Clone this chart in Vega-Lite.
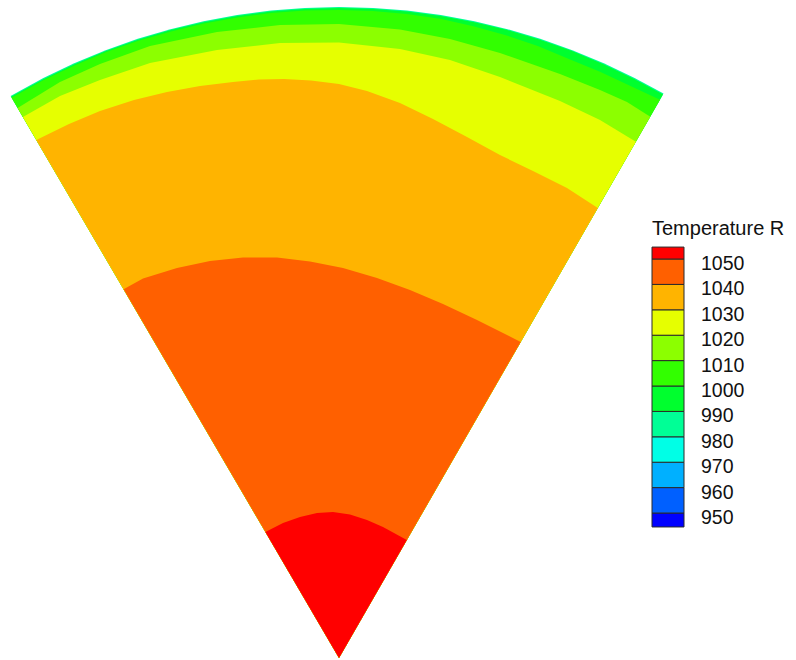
{
  "$schema": "https://vega.github.io/schema/vega-lite/v6.json",
  "padding": 0,
  "spacing": 0,
  "bounds": "flush",
  "background": "white",
  "config": {"view": {"stroke": null}},
  "datasets": {
    "wedge": [
      {"level": 980, "i": 0, "x": 0, "y": 0},
      {"level": 980, "i": 1, "x": -328.4, "y": 562.1},
      {"level": 980, "i": 2, "x": -295.6, "y": 580.0},
      {"level": 980, "i": 3, "x": -264.8, "y": 594.7},
      {"level": 980, "i": 4, "x": -233.3, "y": 607.8},
      {"level": 980, "i": 5, "x": -201.2, "y": 619.2},
      {"level": 980, "i": 6, "x": -168.5, "y": 628.8},
      {"level": 980, "i": 7, "x": -135.4, "y": 636.8},
      {"level": 980, "i": 8, "x": -101.8, "y": 643.0},
      {"level": 980, "i": 9, "x": -68.0, "y": 647.4},
      {"level": 980, "i": 10, "x": -34.1, "y": 650.1},
      {"level": 980, "i": 11, "x": 0, "y": 651},
      {"level": 980, "i": 12, "x": 34.1, "y": 650.1},
      {"level": 980, "i": 13, "x": 68.0, "y": 647.4},
      {"level": 980, "i": 14, "x": 101.8, "y": 643.0},
      {"level": 980, "i": 15, "x": 135.4, "y": 636.8},
      {"level": 980, "i": 16, "x": 168.5, "y": 628.8},
      {"level": 980, "i": 17, "x": 201.2, "y": 619.2},
      {"level": 980, "i": 18, "x": 233.3, "y": 607.8},
      {"level": 980, "i": 19, "x": 264.8, "y": 594.7},
      {"level": 980, "i": 20, "x": 295.6, "y": 580.0},
      {"level": 980, "i": 21, "x": 324.5, "y": 564.4},

      {"level": 990, "i": 0, "x": 0, "y": 0},
      {"level": 990, "i": 1, "x": -327.9, "y": 561.2},
      {"level": 990, "i": 2, "x": -295.1, "y": 579.1},
      {"level": 990, "i": 3, "x": -264.4, "y": 593.8},
      {"level": 990, "i": 4, "x": -233.0, "y": 606.9},
      {"level": 990, "i": 5, "x": -200.9, "y": 618.2},
      {"level": 990, "i": 6, "x": -168.2, "y": 627.9},
      {"level": 990, "i": 7, "x": -135.2, "y": 635.8},
      {"level": 990, "i": 8, "x": -101.7, "y": 642.0},
      {"level": 990, "i": 9, "x": -67.9, "y": 646.4},
      {"level": 990, "i": 10, "x": -34.0, "y": 649.1},
      {"level": 990, "i": 11, "x": 0, "y": 650},
      {"level": 990, "i": 12, "x": 34.0, "y": 649.1},
      {"level": 990, "i": 13, "x": 67.9, "y": 646.4},
      {"level": 990, "i": 14, "x": 101.7, "y": 642.0},
      {"level": 990, "i": 15, "x": 135.2, "y": 635.8},
      {"level": 990, "i": 16, "x": 168.2, "y": 627.9},
      {"level": 990, "i": 17, "x": 200.9, "y": 618.2},
      {"level": 990, "i": 18, "x": 233.0, "y": 606.9},
      {"level": 990, "i": 19, "x": 264.4, "y": 593.8},
      {"level": 990, "i": 20, "x": 295.1, "y": 579.1},
      {"level": 990, "i": 21, "x": 324.0, "y": 563.5},

      {"level": 1000, "i": 0, "x": 0, "y": 0},
      {"level": 1000, "i": 1, "x": -327.4, "y": 560.3},
      {"level": 1000, "i": 2, "x": -294.7, "y": 578.3},
      {"level": 1000, "i": 3, "x": -263.9, "y": 592.8},
      {"level": 1000, "i": 4, "x": -232.6, "y": 605.9},
      {"level": 1000, "i": 5, "x": -200.5, "y": 617.3},
      {"level": 1000, "i": 6, "x": -167.9, "y": 626.6},
      {"level": 1000, "i": 7, "x": -134.9, "y": 634.5},
      {"level": 1000, "i": 8, "x": -101.4, "y": 640.6},
      {"level": 1000, "i": 9, "x": -67.7, "y": 644.9},
      {"level": 1000, "i": 10, "x": -33.9, "y": 647.4},
      {"level": 1000, "i": 11, "x": 0, "y": 648},
      {"level": 1000, "i": 12, "x": 33.9, "y": 646.9},
      {"level": 1000, "i": 13, "x": 67.7, "y": 643.9},
      {"level": 1000, "i": 14, "x": 101.2, "y": 639.2},
      {"level": 1000, "i": 15, "x": 134.3, "y": 631.8},
      {"level": 1000, "i": 16, "x": 166.9, "y": 622.8},
      {"level": 1000, "i": 17, "x": 198.8, "y": 611.9},
      {"level": 1000, "i": 18, "x": 229.9, "y": 598.9},
      {"level": 1000, "i": 19, "x": 261.0, "y": 586.2},
      {"level": 1000, "i": 20, "x": 291.5, "y": 572.1},
      {"level": 1000, "i": 21, "x": 321.0, "y": 558.3},

      {"level": 1010, "i": 0, "x": 0, "y": 0},
      {"level": 1010, "i": 1, "x": -321.4, "y": 550.0},
      {"level": 1010, "i": 2, "x": -279, "y": 576},
      {"level": 1010, "i": 3, "x": -239, "y": 594},
      {"level": 1010, "i": 4, "x": -189, "y": 612},
      {"level": 1010, "i": 5, "x": -122, "y": 626},
      {"level": 1010, "i": 6, "x": -59, "y": 633},
      {"level": 1010, "i": 7, "x": 0, "y": 634},
      {"level": 1010, "i": 8, "x": 61, "y": 628.5},
      {"level": 1010, "i": 9, "x": 111, "y": 619},
      {"level": 1010, "i": 10, "x": 161, "y": 605},
      {"level": 1010, "i": 11, "x": 221, "y": 584},
      {"level": 1010, "i": 12, "x": 261, "y": 568},
      {"level": 1010, "i": 13, "x": 288, "y": 556},
      {"level": 1010, "i": 14, "x": 311.3, "y": 541.3},

      {"level": 1020, "i": 0, "x": 0, "y": 0},
      {"level": 1020, "i": 1, "x": -316.1, "y": 541.0},
      {"level": 1020, "i": 2, "x": -279, "y": 562},
      {"level": 1020, "i": 3, "x": -239, "y": 578},
      {"level": 1020, "i": 4, "x": -189, "y": 595},
      {"level": 1020, "i": 5, "x": -122, "y": 608},
      {"level": 1020, "i": 6, "x": -59, "y": 615},
      {"level": 1020, "i": 7, "x": 0, "y": 615.5},
      {"level": 1020, "i": 8, "x": 61, "y": 609},
      {"level": 1020, "i": 9, "x": 111, "y": 598},
      {"level": 1020, "i": 10, "x": 161, "y": 581},
      {"level": 1020, "i": 11, "x": 221, "y": 557},
      {"level": 1020, "i": 12, "x": 261, "y": 538},
      {"level": 1020, "i": 13, "x": 296.9, "y": 516.3},

      {"level": 1030, "i": 0, "x": 0, "y": 0},
      {"level": 1030, "i": 1, "x": -302.7, "y": 518.0},
      {"level": 1030, "i": 2, "x": -270, "y": 534},
      {"level": 1030, "i": 3, "x": -239, "y": 547},
      {"level": 1030, "i": 4, "x": -205, "y": 558},
      {"level": 1030, "i": 5, "x": -172, "y": 566},
      {"level": 1030, "i": 6, "x": -139, "y": 572},
      {"level": 1030, "i": 7, "x": -106, "y": 576},
      {"level": 1030, "i": 8, "x": -80, "y": 578.5},
      {"level": 1030, "i": 9, "x": -55, "y": 579},
      {"level": 1030, "i": 10, "x": -28, "y": 577.5},
      {"level": 1030, "i": 11, "x": 0, "y": 574},
      {"level": 1030, "i": 12, "x": 28, "y": 567},
      {"level": 1030, "i": 13, "x": 61, "y": 555},
      {"level": 1030, "i": 14, "x": 94, "y": 539},
      {"level": 1030, "i": 15, "x": 128, "y": 521},
      {"level": 1030, "i": 16, "x": 161, "y": 503},
      {"level": 1030, "i": 17, "x": 194, "y": 487},
      {"level": 1030, "i": 18, "x": 228, "y": 470},
      {"level": 1030, "i": 19, "x": 258.8, "y": 450.0},

      {"level": 1040, "i": 0, "x": 0, "y": 0},
      {"level": 1040, "i": 1, "x": -215.4, "y": 368.7},
      {"level": 1040, "i": 2, "x": -196, "y": 379.5},
      {"level": 1040, "i": 3, "x": -162, "y": 390},
      {"level": 1040, "i": 4, "x": -129, "y": 397},
      {"level": 1040, "i": 5, "x": -96, "y": 400.5},
      {"level": 1040, "i": 6, "x": -62, "y": 400.5},
      {"level": 1040, "i": 7, "x": -29, "y": 396.5},
      {"level": 1040, "i": 8, "x": 4, "y": 390},
      {"level": 1040, "i": 9, "x": 38, "y": 380},
      {"level": 1040, "i": 10, "x": 71, "y": 368},
      {"level": 1040, "i": 11, "x": 104, "y": 354},
      {"level": 1040, "i": 12, "x": 138, "y": 338},
      {"level": 1040, "i": 13, "x": 181.7, "y": 316.0},

      {"level": 1050, "i": 0, "x": 0, "y": 0},
      {"level": 1050, "i": 1, "x": -73.6, "y": 126.0},
      {"level": 1050, "i": 2, "x": -56, "y": 135},
      {"level": 1050, "i": 3, "x": -39, "y": 141},
      {"level": 1050, "i": 4, "x": -22, "y": 145},
      {"level": 1050, "i": 5, "x": -6, "y": 146},
      {"level": 1050, "i": 6, "x": 11, "y": 143.5},
      {"level": 1050, "i": 7, "x": 28, "y": 138},
      {"level": 1050, "i": 8, "x": 44, "y": 131},
      {"level": 1050, "i": 9, "x": 67.8, "y": 118.0}
    ],
    "bands": [
      {"level": 945, "lo": 944.5, "hi": 950},
      {"level": 950, "lo": 950, "hi": 960},
      {"level": 960, "lo": 960, "hi": 970},
      {"level": 970, "lo": 970, "hi": 980},
      {"level": 980, "lo": 980, "hi": 990},
      {"level": 990, "lo": 990, "hi": 1000},
      {"level": 1000, "lo": 1000, "hi": 1010},
      {"level": 1010, "lo": 1010, "hi": 1020},
      {"level": 1020, "lo": 1020, "hi": 1030},
      {"level": 1030, "lo": 1030, "hi": 1040},
      {"level": 1040, "lo": 1040, "hi": 1050},
      {"level": 1050, "lo": 1050, "hi": 1054.7}
    ],
    "ticks": [
      {"v": 950}, {"v": 960}, {"v": 970}, {"v": 980}, {"v": 990}, {"v": 1000},
      {"v": 1010}, {"v": 1020}, {"v": 1030}, {"v": 1040}, {"v": 1050}
    ]
  },
  "hconcat": [
    {
      "width": 652,
      "height": 660,
      "data": {"name": "wedge"},
      "mark": {"type": "line", "filled": true, "interpolate": "linear-closed"},
      "encoding": {
        "x": {"field": "x", "type": "quantitative", "scale": {"domain": [-339, 313], "nice": false, "zero": false}, "axis": null},
        "y": {"field": "y", "type": "quantitative", "scale": {"domain": [-2, 658], "nice": false, "zero": false}, "axis": null},
        "order": {"field": "i", "type": "quantitative"},
        "detail": {"field": "level", "type": "quantitative"},
        "color": {
          "field": "level", "type": "quantitative",
          "scale": {"type": "threshold", "domain": [950, 960, 970, 980, 990, 1000, 1010, 1020, 1030, 1040, 1050],
            "range": ["#0000FF", "#0060FF", "#00B0FF", "#00FFE6", "#00FF96", "#00FF2E", "#32FF00", "#8CFF00", "#E6FF00", "#FFB400", "#FF6000", "#FF0000"]},
          "legend": null
        }
      }
    },
    {
      "width": 32,
      "height": 660,
      "layer": [
        {
          "data": {"name": "bands"},
          "mark": {"type": "rect", "stroke": "#2a2a2a", "strokeWidth": 1},
          "encoding": {
            "x": {"value": 0},
            "x2": {"value": "width"},
            "y": {"field": "lo", "type": "quantitative", "scale": {"domain": [892.13, 1151.97], "nice": false, "zero": false}, "axis": null},
            "y2": {"field": "hi"},
            "color": {
              "field": "level", "type": "quantitative",
              "scale": {"type": "threshold", "domain": [950, 960, 970, 980, 990, 1000, 1010, 1020, 1030, 1040, 1050],
                "range": ["#0000FF", "#0060FF", "#00B0FF", "#00FFE6", "#00FF96", "#00FF2E", "#32FF00", "#8CFF00", "#E6FF00", "#FFB400", "#FF6000", "#FF0000"]},
              "legend": null
            }
          }
        },
        {
          "data": {"name": "ticks"},
          "mark": {"type": "text", "align": "left", "baseline": "middle", "dx": 17, "dy": 5, "font": "Liberation Sans", "fontSize": 19.5, "color": "#111111"},
          "encoding": {
            "x": {"value": "width"},
            "y": {"field": "v", "type": "quantitative", "scale": {"domain": [892.13, 1151.97], "nice": false, "zero": false}, "axis": null},
            "text": {"field": "v", "type": "quantitative", "format": "d"}
          }
        },
        {
          "data": {"values": [{"title": "Temperature R"}]},
          "mark": {"type": "text", "align": "left", "baseline": "alphabetic", "font": "Liberation Sans", "fontSize": 20, "color": "#111111"},
          "encoding": {
            "x": {"value": 0},
            "y": {"datum": 1059.45, "type": "quantitative", "scale": {"domain": [892.13, 1151.97], "nice": false, "zero": false}, "axis": null},
            "text": {"field": "title", "type": "nominal"}
          }
        }
      ]
    }
  ]
}
